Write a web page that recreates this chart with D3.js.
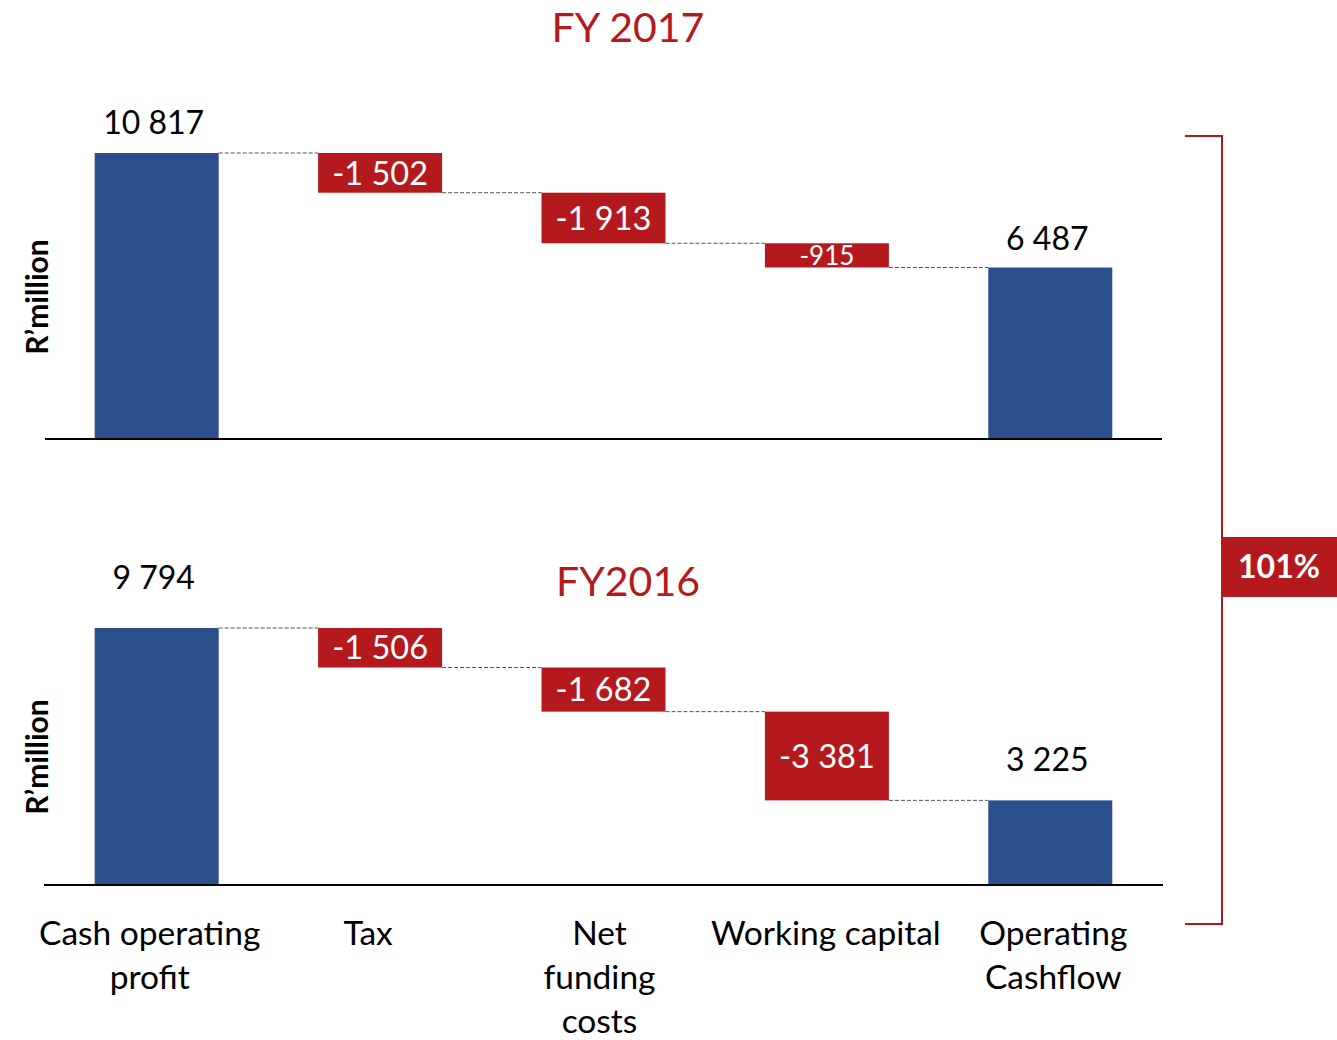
<!DOCTYPE html>
<html>
<head>
<meta charset="utf-8">
<script src="https://cdn.jsdelivr.net/npm/d3@7/dist/d3.min.js"></script>
<style>
  html, body { margin: 0; padding: 0; background: #fff; }
  svg { display: block; font-family: Lato, "Open Sans", sans-serif; }
</style>
</head>
<body>
<svg id="chart" width="1337" height="1040"></svg>
<script>
// Cash flow bridge, FY 2017 vs FY2016 (R'million)
const categories = ["Cash operating profit", "Tax", "Net funding costs", "Working capital", "Operating Cashflow"];
const categoryLines = [["Cash operating", "profit"], ["Tax"], ["Net", "funding", "costs"], ["Working capital"], ["Operating", "Cashflow"]];
const kinds = ["total", "delta", "delta", "delta", "total"];

const values2017 = [10817, -1502, -1913, -915, 6487];
const values2016 = [9794, -1506, -1682, -3381, 3225];

const panelTitles = ["FY 2017", "FY2016"];
const conversionLabel = "101%";

const BLUE = "#2B4F8A";
const RED = "#B4191E";

const svg = d3.select("#chart");

const x = d3.scaleBand()
  .domain(categories)
  .range([45, 1162])
  .paddingInner(0.445)
  .paddingOuter(0.2225);

const fmt = v => {
  const s = d3.format(",")(Math.abs(v)).replace(/,/g, " ");
  return (v < 0 ? "-" : "") + s;
};

// Build waterfall steps: each step has a start and end level
function steps(values) {
  let level = 0;
  return values.map((v, i) => {
    let s;
    if (kinds[i] === "total") { s = { cat: categories[i], v, y0: 0, y1: v, kind: "total" }; level = v; }
    else { s = { cat: categories[i], v, y0: level, y1: level + v, kind: "delta" }; level += v; }
    return s;
  });
}

const panels = [
  { values: values2017, base: 439, top: 153, title: panelTitles[0], titleY: 27, axisLabelY: 297, lineX: [45, 1162], totalGap: [31, 29] },
  { values: values2016, base: 885, top: 628, title: panelTitles[1], titleY: 581, axisLabelY: 757, lineX: [44, 1163], totalGap: [51, 41] }
];

panels.forEach(p => {
  const data = steps(p.values);
  const y = d3.scaleLinear().domain([0, p.values[0]]).range([p.base, p.top]);
  const g = svg.append("g");

  // dashed connectors between consecutive steps
  for (let i = 0; i < data.length - 1; i++) {
    const lvl = data[i].y1;
    g.append("line")
      .attr("x1", x(data[i].cat) + x.bandwidth())
      .attr("x2", x(data[i + 1].cat))
      .attr("y1", y(lvl)).attr("y2", y(lvl))
      .attr("stroke", "#555").attr("stroke-width", 1)
      .attr("stroke-dasharray", "4,2");
  }

  // bars
  g.selectAll("rect.bar").data(data).join("rect")
    .attr("class", "bar")
    .attr("x", d => x(d.cat))
    .attr("width", x.bandwidth())
    .attr("y", d => y(Math.max(d.y0, d.y1)))
    .attr("height", d => Math.abs(y(d.y0) - y(d.y1)))
    .attr("fill", d => d.kind === "total" ? BLUE : RED);

  // value labels
  let ti = 0;
  data.forEach(d => {
    const cx = x(d.cat) + x.bandwidth() / 2;
    if (d.kind === "total") {
      g.append("text").attr("x", cx - 3).attr("y", y(d.y1) - p.totalGap[ti++])
        .attr("dy", "0.36em")
        .attr("text-anchor", "middle").attr("font-size", 32).attr("fill", "#000")
        .text(fmt(d.v));
    } else {
      const h = Math.abs(y(d.y0) - y(d.y1));
      const fs = h < 30 ? 26 : 32.5;
      g.append("text").attr("x", cx)
        .attr("y", (y(d.y0) + y(d.y1)) / 2)
        .attr("dy", "0.36em")
        .attr("text-anchor", "middle").attr("font-size", fs).attr("fill", "#fff")
        .text(fmt(d.v));
    }
  });

  // baseline
  g.append("line").attr("x1", p.lineX[0]).attr("x2", p.lineX[1])
    .attr("y1", p.base).attr("y2", p.base)
    .attr("stroke", "#000").attr("stroke-width", 2);

  // panel title
  g.append("text").attr("x", 628).attr("y", p.titleY).attr("dy", "0.36em")
    .attr("text-anchor", "middle").attr("font-size", 41).attr("fill", RED)
    .text(p.title);

  // y axis label
  g.append("text")
    .attr("transform", `translate(37,${p.axisLabelY}) rotate(-90)`)
    .attr("dy", "0.36em")
    .attr("text-anchor", "middle").attr("font-size", 30).attr("font-weight", "bold")
    .text("R\u2019million");
});

// category labels
const labelNudge = [-7, -12, -4, -1, 3];
categories.forEach((c, i) => {
  const t = svg.append("text")
    .attr("text-anchor", "middle").attr("font-size", 33.5).attr("fill", "#000");
  categoryLines[i].forEach((ln, j) => {
    t.append("tspan").attr("x", x(c) + x.bandwidth() / 2 + labelNudge[i])
      .attr("y", 933 + j * 44).attr("dy", "0.36em").text(ln);
  });
});

// conversion bracket spanning both panels
svg.append("path")
  .attr("d", "M1185,136 H1222 V924 H1185")
  .attr("fill", "none").attr("stroke", RED).attr("stroke-width", 2);
svg.append("rect").attr("x", 1222).attr("y", 537).attr("width", 115).attr("height", 60).attr("fill", RED);
svg.append("text").attr("x", 1279).attr("y", 566).attr("dy", "0.36em")
  .attr("text-anchor", "middle").attr("font-size", 32).attr("font-weight", "bold").attr("fill", "#fff")
  .text(conversionLabel);
</script>
</body>
</html>
